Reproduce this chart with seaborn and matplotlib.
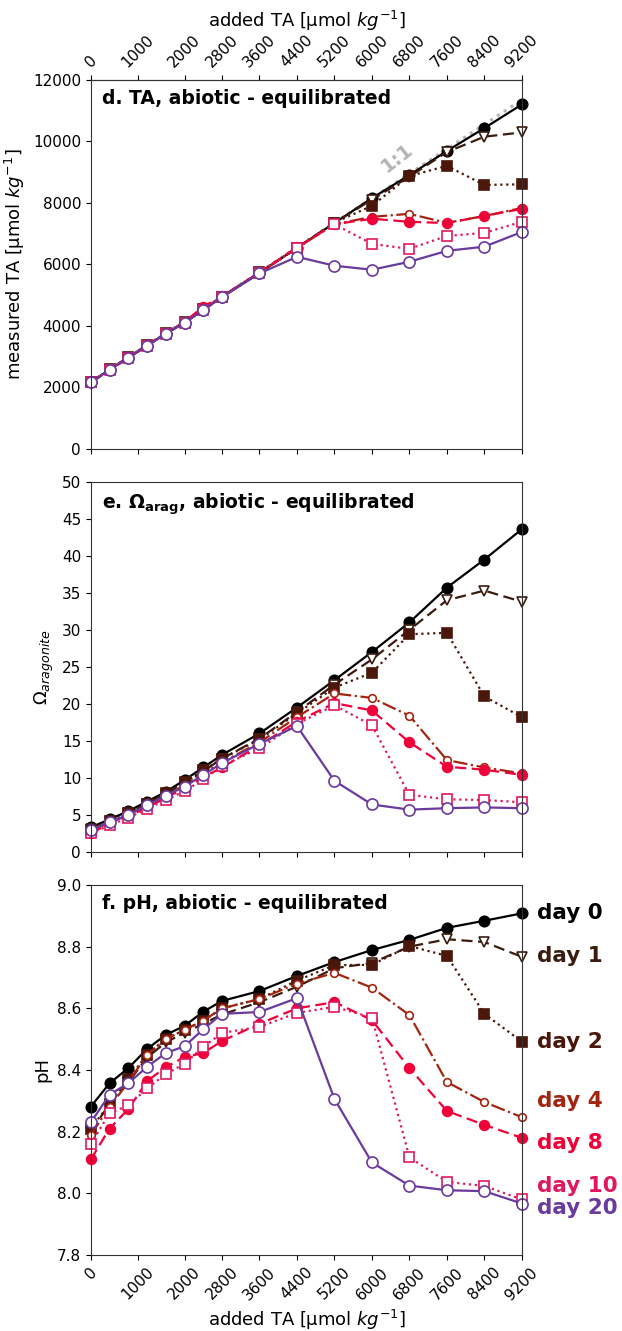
import numpy as np
import pandas as pd
import matplotlib
matplotlib.use("Agg")
import matplotlib.pyplot as plt
import seaborn as sns

# ── data ─────────────────────────────────────────────────────────────────────
added_ta = [0, 400, 800, 1200, 1600, 2000, 2400, 2800, 3600, 4400, 5200, 6000, 6800, 7600, 8400, 9200]
days = ["day 0", "day 1", "day 2", "day 4", "day 8", "day 10", "day 20"]
xticks = [0, 1000, 2000, 2800, 3600, 4400, 5200, 6000, 6800, 7600, 8400, 9200]

ta_day0 = [2150, 2570, 2960, 3350, 3740, 4100, 4520, 4940, 5720, 6530, 7340, 8150, 8900, 9685, 10430, 11200]
ta_day1 = [2150, 2570, 2960, 3350, 3740, 4100, 4520, 4940, 5720, 6530, 7350, 8100, 8850, 9650, 10150, 10290]
ta_day2 = [2160, 2580, 2970, 3360, 3750, 4110, 4530, 4940, 5730, 6540, 7350, 7900, 8870, 9200, 8580, 8600]
ta_day4 = [2150, 2570, 2960, 3350, 3740, 4100, 4530, 4940, 5720, 6530, 7300, 7540, 7640, 7345, 7570, 7830]
ta_day8 = [2160, 2580, 2970, 3370, 3760, 4120, 4620, 4950, 5730, 6550, 7300, 7480, 7380, 7340, 7570, 7800]
ta_day10 = [2150, 2570, 2960, 3350, 3740, 4100, 4520, 4940, 5720, 6530, 7300, 6660, 6500, 6920, 7020, 7380]
ta_day20 = [2150, 2570, 2960, 3350, 3740, 4100, 4500, 4930, 5700, 6240, 5950, 5820, 6080, 6435, 6570, 7050]

om_day0 = [3.3, 4.4, 5.5, 6.8, 8.1, 9.7, 11.4, 13.1, 16.0, 19.5, 23.2, 27.0, 31.0, 35.7, 39.5, 43.6]
om_day1 = [3.1, 4.1, 5.2, 6.5, 7.8, 9.3, 10.9, 12.6, 15.3, 18.9, 22.6, 26.0, 30.0, 34.0, 35.3, 33.8]
om_day2 = [3.0, 4.1, 5.2, 6.5, 7.9, 9.4, 11.0, 12.6, 15.2, 18.7, 22.2, 24.2, 29.4, 29.6, 21.0, 18.2]
om_day4 = [2.9, 3.9, 5.0, 6.3, 7.6, 9.0, 10.6, 12.1, 14.8, 18.2, 21.4, 20.8, 18.4, 12.4, 11.4, 10.6]
om_day8 = [2.6, 3.7, 4.8, 6.0, 7.3, 8.6, 10.1, 11.4, 14.4, 17.6, 20.1, 19.1, 14.8, 11.5, 11.1, 10.4]
om_day10 = [2.5, 3.6, 4.6, 5.8, 7.0, 8.2, 9.8, 11.6, 14.0, 17.3, 19.8, 17.1, 7.7, 7.1, 7.0, 6.7]
om_day20 = [3.0, 4.0, 5.0, 6.3, 7.6, 8.8, 10.4, 12.0, 14.6, 17.0, 9.6, 6.4, 5.7, 5.9, 6.0, 5.9]

ph_day0 = [8.281, 8.357, 8.406, 8.468, 8.514, 8.543, 8.589, 8.624, 8.656, 8.705, 8.750, 8.789, 8.822, 8.861, 8.884, 8.908]
ph_day1 = [8.20, 8.29, 8.36, 8.44, 8.49, 8.52, 8.55, 8.58, 8.62, 8.67, 8.73, 8.747, 8.80, 8.824, 8.815, 8.767]
ph_day2 = [8.21, 8.29, 8.37, 8.45, 8.50, 8.53, 8.56, 8.60, 8.63, 8.69, 8.74, 8.741, 8.802, 8.770, 8.582, 8.492]
ph_day4 = [8.19, 8.28, 8.36, 8.45, 8.50, 8.53, 8.56, 8.60, 8.63, 8.68, 8.715, 8.667, 8.578, 8.361, 8.296, 8.247]
ph_day8 = [8.11, 8.21, 8.273, 8.364, 8.409, 8.442, 8.455, 8.494, 8.55, 8.60, 8.62, 8.562, 8.406, 8.267, 8.222, 8.18]
ph_day10 = [8.16, 8.26, 8.285, 8.34, 8.387, 8.42, 8.475, 8.52, 8.54, 8.585, 8.605, 8.57, 8.117, 8.037, 8.024, 7.98]
ph_day20 = [8.23, 8.32, 8.357, 8.41, 8.455, 8.477, 8.532, 8.582, 8.588, 8.633, 8.306, 8.10, 8.025, 8.01, 8.007, 7.967]

ta_all = [ta_day0, ta_day1, ta_day2, ta_day4, ta_day8, ta_day10, ta_day20]
om_all = [om_day0, om_day1, om_day2, om_day4, om_day8, om_day10, om_day20]
ph_all = [ph_day0, ph_day1, ph_day2, ph_day4, ph_day8, ph_day10, ph_day20]

rows = []
for d, ta, om, ph in zip(days, ta_all, om_all, ph_all):
    for x, a, b, c in zip(added_ta, ta, om, ph):
        rows.append({"day": d, "added": x, "TA": a, "omega": b, "pH": c})
df = pd.DataFrame(rows)

# ── styles ───────────────────────────────────────────────────────────────────
styles = {
    "day 0":  dict(color="#000000", ls="-",  marker="o", mfc="#000000", ms=7.5),
    "day 1":  dict(color="#3b1c10", ls=(0, (5, 2.5)), marker="v", mfc="white", ms=7.5),
    "day 2":  dict(color="#4a170a", ls=":",  marker="s", mfc="#4a170a", ms=7),
    "day 4":  dict(color="#a32510", ls="-.", marker="o", mfc="white", ms=5.5),
    "day 8":  dict(color="#ef0039", ls=(0, (5, 2.5)), marker="o", mfc="#ef0039", ms=7),
    "day 10": dict(color="#e0185f", ls=":",  marker="s", mfc="white", ms=7),
    "day 20": dict(color="#6a3a9e", ls="-",  marker="o", mfc="white", ms=8),
}
label_y = {"day 0": 8.908, "day 1": 8.77, "day 2": 8.49, "day 4": 8.30,
           "day 8": 8.163, "day 10": 8.024, "day 20": 7.952}

sns.set_style("ticks")
plt.rcParams["font.family"] = ["DejaVu Sans"]
for k in ["text.color", "axes.labelcolor", "xtick.color", "ytick.color"]:
    plt.rcParams[k] = "black"

fig = plt.figure(figsize=(6.22, 13.31), dpi=100)
left, width = 0.146, 0.693
ax_d = fig.add_axes([left, 0.663, width, 0.277])
ax_e = fig.add_axes([left, 0.360, width, 0.278])
ax_f = fig.add_axes([left, 0.0571, width, 0.278])


def draw(ax, col):
    for d in days:
        st = styles[d]
        sns.lineplot(data=df[df["day"] == d], x="added", y=col, ax=ax,
                     color=st["color"], linestyle=st["ls"], marker=st["marker"],
                     markerfacecolor=st["mfc"], markeredgecolor=st["color"],
                     markeredgewidth=1.2, markersize=st["ms"], linewidth=1.6,
                     errorbar=None, clip_on=False, legend=False)
    ax.set_xlim(0, 9200)
    ax.set_xticks(xticks)
    ax.set_xlabel("")
    ax.tick_params(labelsize=11)
    for s in ax.spines.values():
        s.set_color("#333333")


# ── d. TA ────────────────────────────────────────────────────────────────────
one_to_one = [ta_day0[0] + x for x in added_ta]
ax_d.plot(added_ta, one_to_one, ls=":", color="#b4b4b4", lw=2.2, zorder=1)
draw(ax_d, "TA")
ax_d.set_ylim(0, 12000)
ax_d.set_yticks(range(0, 12001, 2000))
ax_d.set_xticklabels([])
ax_d.set_ylabel(r"measured TA [µmol $kg^{-1}$]", fontsize=13)
ax_d.text(6550, 9450, "1:1", color="#b4b4b4", fontsize=14, fontweight="bold",
          rotation=38, ha="center", va="center")
ax_d.text(0.025, 0.975, "d. TA, abiotic - equilibrated", transform=ax_d.transAxes,
          fontsize=13.5, fontweight="bold", va="top")
top = ax_d.secondary_xaxis("top")
top.set_xticks(xticks)
top.set_xticklabels([str(t) for t in xticks], rotation=45, fontsize=11)
top.set_xlabel(r"added TA [µmol $kg^{-1}$]", fontsize=13)

# ── e. Omega aragonite ───────────────────────────────────────────────────────
draw(ax_e, "omega")
ax_e.set_ylim(0, 50)
ax_e.set_yticks(range(0, 51, 5))
ax_e.set_xticklabels([])
ax_e.set_ylabel(r"$\Omega_{aragonite}$", fontsize=13)
ax_e.text(0.025, 0.975, r"e. $\mathbf{\Omega_{arag}}$, abiotic - equilibrated",
          transform=ax_e.transAxes, fontsize=13.5, fontweight="bold", va="top")

# ── f. pH ────────────────────────────────────────────────────────────────────
draw(ax_f, "pH")
ax_f.set_ylim(7.8, 9.0)
ax_f.set_yticks(np.arange(7.8, 9.01, 0.2))
ax_f.set_yticklabels([f"{v:.1f}" for v in np.arange(7.8, 9.01, 0.2)])
ax_f.set_xticklabels([str(t) for t in xticks], rotation=45)
ax_f.set_xlabel(r"added TA [µmol $kg^{-1}$]", fontsize=13)
ax_f.set_ylabel("pH", fontsize=13)
ax_f.text(0.025, 0.975, "f. pH, abiotic - equilibrated", transform=ax_f.transAxes,
          fontsize=13.5, fontweight="bold", va="top")
for d in days:
    ax_f.annotate(d, xy=(1, label_y[d]), xycoords=("axes fraction", "data"),
                  xytext=(11, 0), textcoords="offset points", va="center", ha="left",
                  color=styles[d]["color"], fontsize=15.5, fontweight="bold")

fig.savefig("out.png", dpi=100)
